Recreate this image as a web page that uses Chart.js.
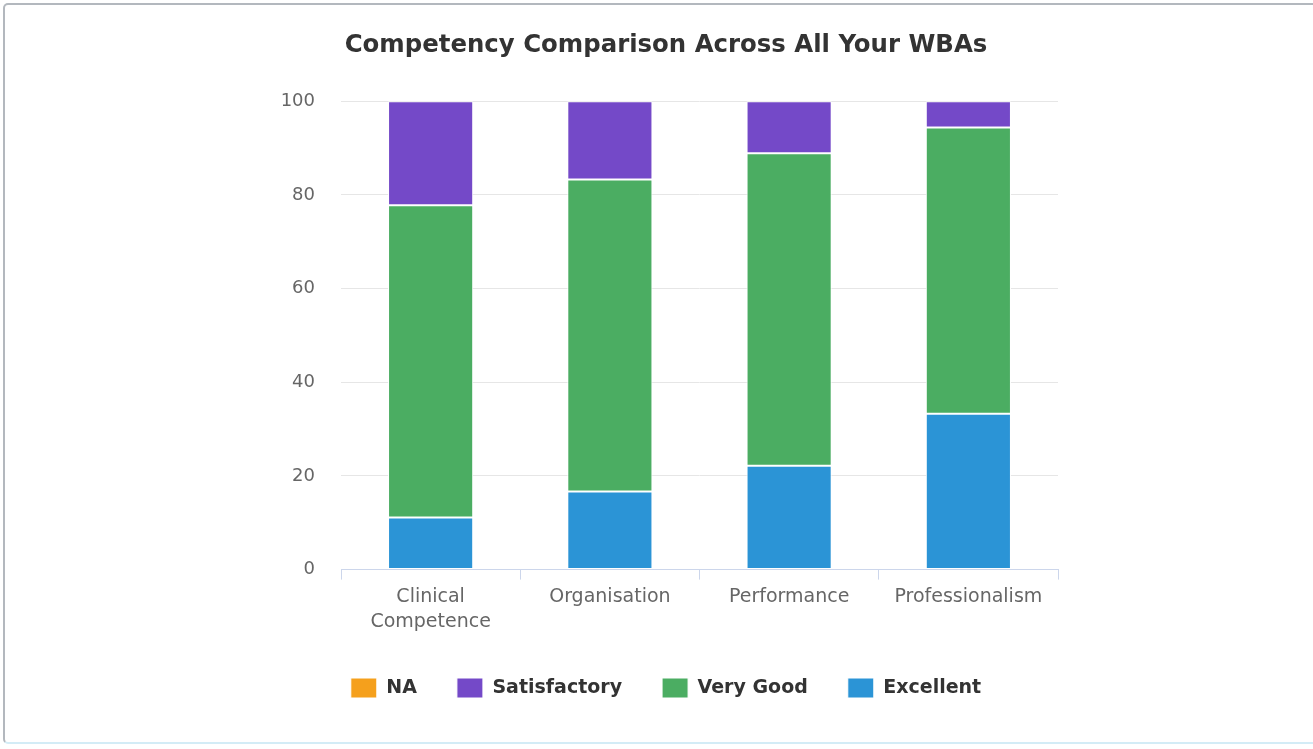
<!DOCTYPE html>
<html>
<head>
<meta charset="utf-8">
<script src="https://cdn.jsdelivr.net/npm/chart.js@4"></script>
<style>
  html, body { margin: 0; padding: 0; background: #fff; overflow: hidden; }
  #frame {
    position: absolute; left: 3px; top: 3px; width: 1330px; height: 741px;
    border: 2px solid #b3b8be; border-bottom-color: #d3ecf6; border-radius: 5px;
    box-sizing: border-box;
  }
  #wrap { position: absolute; left: 0; top: 0; width: 1313px; height: 749px; }
</style>
</head>
<body>
<div id="frame"></div>
<div id="wrap"><canvas id="myChart"></canvas></div>
<script>
const categories = [['Clinical', 'Competence'], 'Organisation', 'Performance', 'Professionalism'];
const excellent = [11.1, 16.7, 22.2, 33.3];
const veryGood = [66.7, 66.6, 66.7, 61.1];
const satisfactory = [22.2, 16.7, 11.1, 5.6];
const notApplicable = [0, 0, 0, 0];
const yTicks = [0, 20, 40, 60, 80, 100];

const font = 'DejaVu Sans';

const bar = (label, values, colour) => ({
  label: label,
  data: values,
  backgroundColor: colour,
  borderColor: '#ffffff',
  borderWidth: 1,
  borderSkipped: false,
  barPercentage: 0.475,
  categoryPercentage: 1
});

const data = {
  labels: categories,
  datasets: [
    bar('Excellent', excellent, '#2b94d6'),
    bar('Very Good', veryGood, '#4bad62'),
    bar('Satisfactory', satisfactory, '#7449c8'),
    bar('NA', notApplicable, '#f5a01c')
  ]
};

const config = {
  type: 'bar',
  data: data,
  options: {
    responsive: false,
    animation: false,
    layout: { padding: { left: 274, right: 255, top: 0, bottom: 41 } },
    plugins: {
      title: {
        display: true,
        text: 'Competency Comparison Across All Your WBAs',
        color: '#333333',
        font: { family: font, size: 24.4, weight: 'bold' },
        padding: { top: 31, bottom: 41 }
      },
      legend: {
        position: 'bottom',
        reverse: true,
        labels: {
          color: '#333333',
          font: { family: font, size: 19, weight: 'bold' },
          boxWidth: 26,
          boxHeight: 20,
          padding: 40
        }
      },
      tooltip: { enabled: false }
    },
    scales: {
      x: {
        stacked: true,
        afterFit: (scale) => { scale.height -= 1; },
        grid: { drawOnChartArea: false, color: '#ccd6eb', tickLength: 10 },
        border: { color: '#ccd6eb' },
        ticks: { color: '#666666', font: { family: font, size: 19, lineHeight: 1.3 }, padding: 5, maxRotation: 0 }
      },
      y: {
        stacked: true,
        min: 0,
        max: 100,
        afterBuildTicks: (scale) => { scale.ticks = yTicks.map(v => ({ value: v })); },
        afterFit: (scale) => { scale.width = 67; },
        grid: { color: '#e6e6e6', drawTicks: false },
        border: { display: false },
        ticks: { color: '#666666', font: { family: font, size: 18 }, padding: 26 }
      }
    }
  }
};

const canvas = document.getElementById('myChart');
canvas.width = 1313;
canvas.height = 749;
new Chart(canvas, config);
</script>
</body>
</html>
